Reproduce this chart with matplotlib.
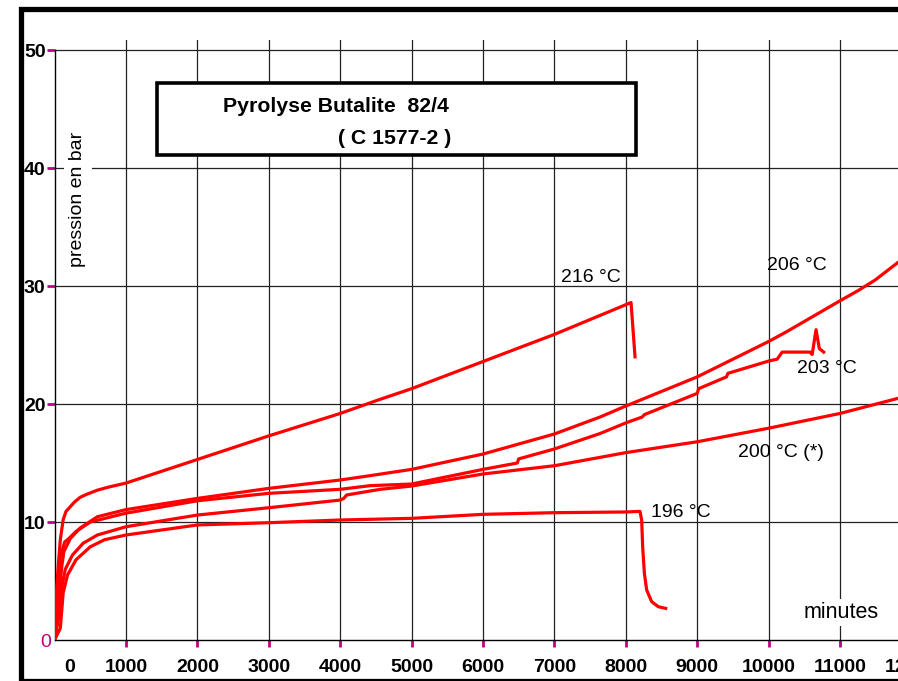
import matplotlib
matplotlib.use("Agg")
import matplotlib.pyplot as plt
from matplotlib.patches import Rectangle

plt.rcParams['font.family'] = ['Liberation Sans', 'DejaVu Sans']

# ---- data (time in minutes, pressure in bar) ----
t216 = [0, 15, 30, 50, 80, 120, 160, 220, 280, 360, 450, 600, 750, 1000, 2000, 3000, 4000, 4560,
        5000, 6000, 6520, 7000, 8073, 8129]
p216 = [0.3, 2.5, 4.5, 6.2, 8.5, 10.2, 10.9, 11.3, 11.7, 12.1, 12.35, 12.7, 12.95, 13.3, 15.3, 17.3,
        19.2, 20.4, 21.3, 23.6, 24.8, 25.9, 28.6, 24.0]

t206 = [0, 40, 70, 100, 130, 220, 360, 600, 1000, 2000, 3000, 4000, 4420, 5000, 6000, 7000,
        7640, 8000, 9000, 10000, 10244, 11000, 11250, 11490, 11812]
p206 = [0, 2, 4.5, 6.2, 7.5, 8.6, 9.5, 10.45, 11.05, 12.0, 12.85, 13.56, 13.93, 14.46, 15.76, 17.46,
        18.9, 19.83, 22.3, 25.3, 26.1, 28.75, 29.6, 30.5, 32.0]

t203 = [0, 20, 40, 80, 140, 200, 300, 500, 1000, 2000, 3000, 4000, 4420, 5000, 6000, 6480, 6500,
        7000, 7640, 8000, 8230, 8260, 9000, 9020, 9410, 9430, 10000, 10120, 10190, 10580, 10610,
        10664, 10710, 10771]
p203 = [0.5, 2.5, 4.0, 7.0, 8.3, 8.6, 9.2, 10.0, 10.75, 11.8, 12.43, 12.77, 13.08, 13.22, 14.46, 15.0, 15.35,
        16.19, 17.5, 18.4, 18.9, 19.1, 20.9, 21.3, 22.3, 22.6, 23.64, 23.8, 24.4, 24.4, 24.2,
        26.3, 24.7, 24.4]

t200 = [0, 60, 100, 150, 250, 400, 600, 1000, 2000, 3000, 4000, 4050, 4090, 4560, 5000, 6000,
        7000, 7640, 8000, 9000, 10000, 11000, 11812]
p200 = [0, 2, 4.5, 6, 7.2, 8.2, 8.9, 9.6, 10.59, 11.21, 11.86, 12.0, 12.29, 12.77, 13.05, 14.07,
        14.77, 15.48, 15.88, 16.8, 17.95, 19.2, 20.48]

t196 = [0, 80, 120, 180, 300, 500, 700, 1000, 2000, 3000, 4000, 5000, 6000, 7000, 8000, 8198,
        8222, 8236, 8260, 8292, 8362, 8455, 8558]
p196 = [0, 1, 4, 5.5, 6.8, 7.9, 8.5, 8.9, 9.75, 9.94, 10.17, 10.31, 10.65, 10.79, 10.85, 10.9,
        10.17, 7.9, 5.65, 4.24, 3.25, 2.82, 2.68]

series = [(t216, p216), (t206, p206), (t203, p203), (t200, p200), (t196, p196)]

curve_labels = ["216 °C", "206 °C", "203 °C", "200 °C (*)", "196 °C"]
label_t = [7509, 10398, 10809, 10169, 8770]
label_p = [30.85, 31.92, 23.16, 16.1, 10.96]

x_ticks = [1000, 2000, 3000, 4000, 5000, 6000, 7000, 8000, 9000, 10000, 11000]
x_tick_labels = [str(v) for v in x_ticks]
y_ticks = [10, 20, 30, 40, 50]
y_tick_labels = [str(v) for v in y_ticks]

title_line1 = "Pyrolyse Butalite  82/4"
title_line2 = "( C 1577-2 )"
y_label = "pression en bar"
x_label = "minutes"

W, H = 898, 681
MAG = '#c0007f'

fig = plt.figure(figsize=(W / 100, H / 100), dpi=100)
fig.patch.set_facecolor('white')

x0_px, x1_px = 54.6, 898
y0_px, ytop_px = 640, 40
ax = fig.add_axes([x0_px / W, 1 - y0_px / H, (x1_px - x0_px) / W, (y0_px - ytop_px) / H])
ax.set_xlim(0, 11812)
ax.set_ylim(0, 50.85)

for t, p in series:
    ax.plot(t, p, color='#ff0000', lw=2.3, solid_joinstyle='round', zorder=3)

ax.set_xticks(x_ticks)
ax.set_xticklabels(x_tick_labels, fontsize=14, fontweight='bold')
ax.set_yticks(y_ticks)
ax.set_yticklabels(y_tick_labels, fontsize=14, fontweight='bold')
ax.tick_params(axis='x', direction='out', length=5, width=2, color=MAG, pad=8.5)
ax.tick_params(axis='y', direction='out', length=6, width=2, color=MAG, pad=0.5)
ax.grid(True, color='#222222', lw=0.9)
ax.set_axisbelow(True)

for s in ['top', 'right']:
    ax.spines[s].set_visible(False)
ax.spines['left'].set_bounds(0, 50)
ax.spines['left'].set_color('black')
ax.spines['bottom'].set_color('black')
ax.spines['left'].set_linewidth(1)
ax.spines['bottom'].set_linewidth(1)

# extra tick labels
ax.text(215, -0.032, "0", transform=ax.get_xaxis_transform(), ha='center', va='top',
        fontsize=14, fontweight='bold')
ax.text(12000, -0.032, "12000", transform=ax.get_xaxis_transform(), ha='center', va='top',
        fontsize=14, fontweight='bold', clip_on=False)
ax.text(-0.004, -0.2, "0", transform=ax.get_yaxis_transform(), ha='right', va='center',
        fontsize=14, color=MAG)

for lab, lt, lp in zip(curve_labels, label_t, label_p):
    ax.text(lt, lp, lab, ha='center', va='center_baseline', fontsize=14, zorder=4)

ax.text(11010, 2.54, x_label, ha='center', va='center_baseline', fontsize=15.5, zorder=4,
        bbox=dict(boxstyle='square,pad=0.15', fc='white', ec='none'))

# y label
fig.text(78 / W, 1 - 199 / H, y_label, rotation=90, ha='center', va='center', fontsize=14,
         bbox=dict(boxstyle='square,pad=0.3', fc='white', ec='none'))

# title box
fig.add_artist(Rectangle((157 / W, 1 - 155 / H), (636 - 157) / W, (155 - 83) / H,
                         transform=fig.transFigure, fc='white', ec='black', lw=2.6, zorder=5))
fig.text(223 / W, 1 - 104 / H, title_line1, ha='left', va='center_baseline', fontsize=15.3,
         fontweight='bold', zorder=6)
fig.text(338 / W, 1 - 137 / H, title_line2, ha='left', va='center_baseline', fontsize=15.3,
         fontweight='bold', zorder=6)

# outer frame
fig.add_artist(Rectangle((20.5 / W, 1 - 681.5 / H), 1.2, (681.5 - 9.5) / H,
                         transform=fig.transFigure, fill=False, ec='black', lw=3.8, zorder=7,
                         clip_on=False))

fig.savefig("out.png", dpi=100)
